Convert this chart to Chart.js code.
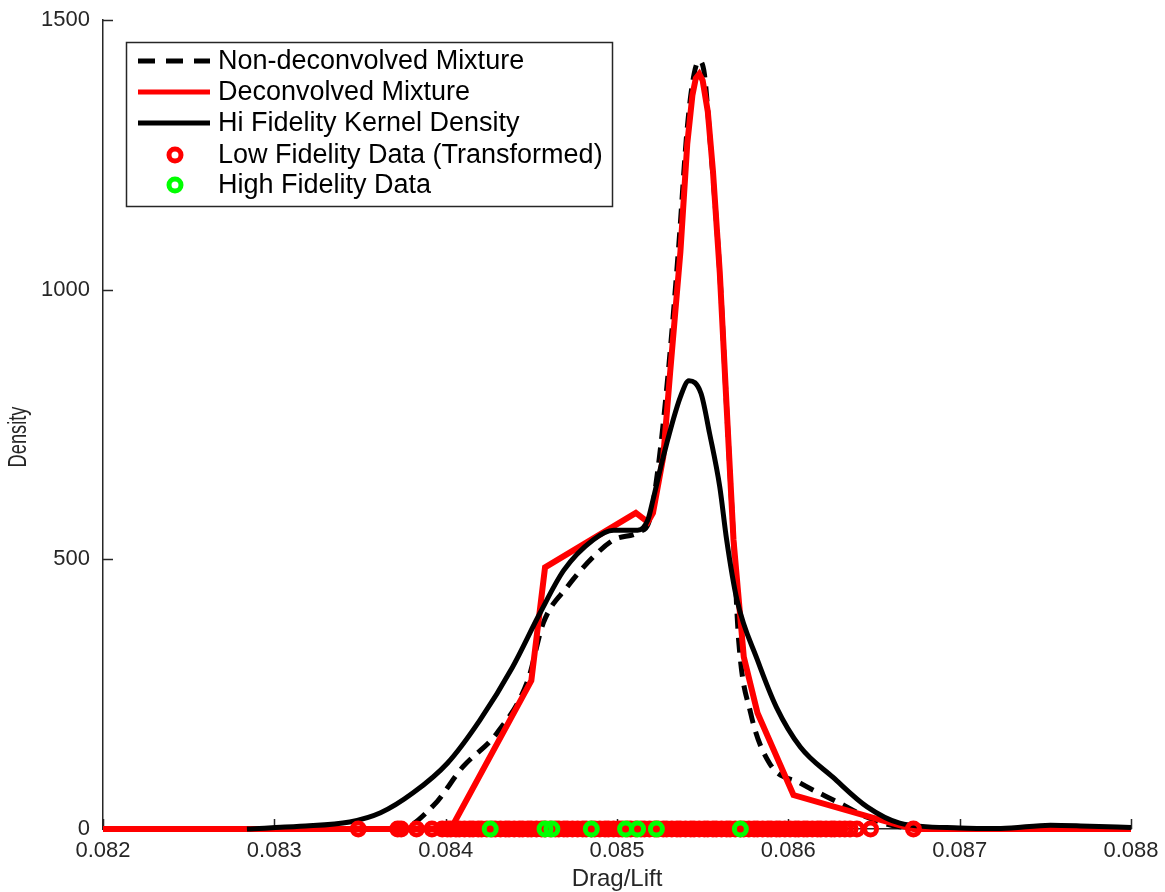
<!DOCTYPE html>
<html>
<head>
<meta charset="utf-8">
<title>Drag/Lift density</title>
<script src="https://cdn.jsdelivr.net/npm/chart.js@4.4.0/dist/chart.umd.min.js"></script>
<style>
  html, body { margin: 0; padding: 0; background: #fff; }
  #wrap { width: 1165px; height: 892px; }
</style>
</head>
<body>
<div id="wrap"><canvas id="chart" width="1165" height="892"></canvas></div>
<script>
// axis ticks
const xTickVals = [0.082, 0.083, 0.084, 0.085, 0.086, 0.087, 0.088];
const yTickVals = [0, 500, 1000, 1500];

// mixture fitted to the raw low fidelity data
const nonDeconvX = [0.0820, 0.08373, 0.08393, 0.08410, 0.08430, 0.08448, 0.08457, 0.08471, 0.08486, 0.08498,
  0.08513, 0.08519, 0.08524, 0.08530, 0.08536, 0.08541, 0.08545, 0.08548, 0.08551, 0.08554,
  0.08560, 0.08564, 0.08568, 0.08571, 0.08578, 0.08589, 0.08607, 0.08630, 0.08646, 0.08665,
  0.0870, 0.0880];
const nonDeconvY = [0, 0, 44, 115, 178, 276, 382, 449, 504, 536,
  551, 573, 670, 850, 1080, 1300, 1400, 1424, 1400, 1290,
  1030, 780, 536, 350, 215, 122, 85, 48, 22, 4,
  0, 0];

// deconvolved mixture
const deconvX = [0.0820, 0.08403, 0.08450, 0.08458, 0.08511, 0.08518, 0.08521, 0.08527, 0.08531, 0.08537,
  0.08541, 0.08544, 0.08546, 0.08548, 0.08550, 0.08553, 0.08556, 0.08560, 0.08564, 0.08568,
  0.08574, 0.08582, 0.08603, 0.08648, 0.08673, 0.0880];
const deconvY = [0, 0, 275, 485, 586, 569, 586, 690, 846, 1070,
  1270, 1360, 1392, 1400, 1388, 1330, 1220, 1031, 782, 536,
  319, 215, 63, 22, 0, 0];

// kernel density of the high fidelity runs
const kdeX = [0.08284, 0.08315, 0.08344, 0.08362, 0.08381, 0.08401, 0.08420, 0.08439, 0.08455, 0.08469,
  0.08486, 0.08498, 0.08512, 0.08518, 0.08521, 0.08527, 0.08537, 0.08542, 0.08549, 0.08554,
  0.08560, 0.08564, 0.08570, 0.08582, 0.08593, 0.08607, 0.08626, 0.08646, 0.08665, 0.08700,
  0.08724, 0.08753, 0.08776, 0.0880];
const kdeY = [0, 5, 13, 30, 67, 122, 202, 300, 400, 480,
  536, 554, 554, 573, 610, 690, 801, 831, 808, 734,
  634, 536, 425, 313, 226, 152, 96, 41, 11, 2,
  1, 7, 5, 3];

// samples, plotted along zero
const lowFiX = [0.08349, 0.08372, 0.08374, 0.08383, 0.08392, 0.08398,
  0.08401, 0.08403, 0.08406, 0.08408, 0.08411, 0.08414, 0.08416, 0.08419, 0.08421, 0.08424,
  0.08427, 0.08429, 0.08432, 0.08435, 0.08437, 0.08440, 0.08443, 0.08445, 0.08448, 0.08450,
  0.08453, 0.08456, 0.08458, 0.08461, 0.08464, 0.08466, 0.08469, 0.08471, 0.08474, 0.08477,
  0.08480, 0.08482, 0.08485, 0.08487, 0.08490, 0.08493, 0.08495, 0.08498, 0.08501, 0.08503,
  0.08506, 0.08508, 0.08511, 0.08514, 0.08516, 0.08519, 0.08522, 0.08524, 0.08527, 0.08529,
  0.08532, 0.08535, 0.08537, 0.08540, 0.08543, 0.08545, 0.08548, 0.08551, 0.08553, 0.08556,
  0.08558, 0.08561, 0.08564, 0.08566, 0.08569, 0.08572, 0.08574, 0.08577, 0.08580, 0.08582,
  0.08585, 0.08588, 0.08590, 0.08593, 0.08595, 0.08598, 0.08601, 0.08604, 0.08606, 0.08609,
  0.08611, 0.08614, 0.08617, 0.08619, 0.08622, 0.08625, 0.08627, 0.08630, 0.08633, 0.08636,
  0.08640, 0.08648, 0.08673];
const highFiX = [0.08426, 0.08458, 0.08462, 0.08485, 0.08505, 0.08512, 0.08523, 0.08572];

const axisColor = '#262626';
const fontFamily = '"Liberation Sans", Arial, sans-serif';
const pts = (xs, ys) => xs.map((x, i) => ({ x, y: ys[i] }));

// ticks point into the plot area
const inwardTicks = {
  id: 'inwardTicks',
  beforeDatasetsDraw(chart) {
    const { ctx, chartArea, scales: { x, y } } = chart;
    ctx.save();
    ctx.strokeStyle = axisColor;
    ctx.lineWidth = 1.5;
    ctx.beginPath();
    xTickVals.forEach(v => {
      const px = Math.round(x.getPixelForValue(v)) + 0.5;
      ctx.moveTo(px, chartArea.bottom);
      ctx.lineTo(px, chartArea.bottom - 10);
    });
    yTickVals.forEach(v => {
      const py = Math.round(y.getPixelForValue(v)) + 0.5;
      ctx.moveTo(chartArea.left, py);
      ctx.lineTo(chartArea.left + 10, py);
    });
    ctx.stroke();
    ctx.restore();
  }
};

// axis titles; the y title is drawn narrow
const axisTitles = {
  id: 'axisTitles',
  afterDraw(chart) {
    const { ctx, chartArea } = chart;
    ctx.save();
    ctx.fillStyle = axisColor;
    ctx.textAlign = 'center';
    ctx.textBaseline = 'middle';
    ctx.font = '24px ' + fontFamily;
    ctx.fillText('Drag/Lift', (chartArea.left + chartArea.right) / 2, chartArea.bottom + 50);
    ctx.font = '25px ' + fontFamily;
    ctx.translate(19, 437);
    ctx.rotate(-Math.PI / 2);
    ctx.scale(0.73, 1);
    ctx.fillText('Density', 0, 0);
    ctx.restore();
  }
};

// boxed legend in the upper left corner
const legendBox = {
  id: 'legendBox',
  afterDraw(chart) {
    const { ctx, chartArea } = chart;
    const left = chartArea.left + 23, top = chartArea.top + 22;
    const w = 486, h = 164;
    const rows = [19, 50, 81, 113, 143];
    ctx.save();
    ctx.fillStyle = '#fff';
    ctx.fillRect(left, top, w, h);
    ctx.strokeStyle = axisColor;
    ctx.lineWidth = 1.5;
    ctx.strokeRect(left + 0.5, top + 0.5, w, h);
    ctx.font = '27px ' + fontFamily;
    ctx.textBaseline = 'middle';
    chart.data.datasets.forEach((ds, k) => {
      const cy = top + rows[k];
      if (ds.showLine) {
        ctx.beginPath();
        ctx.strokeStyle = ds.borderColor;
        ctx.lineWidth = 5;
        ctx.setLineDash(ds.borderDash ? [17, 11] : []);
        ctx.moveTo(left + 12, cy);
        ctx.lineTo(left + 84, cy);
        ctx.stroke();
        ctx.setLineDash([]);
      } else {
        ctx.beginPath();
        ctx.strokeStyle = ds.pointBorderColor;
        ctx.lineWidth = 5;
        ctx.arc(left + 49, cy, 6, 0, Math.PI * 2);
        ctx.stroke();
      }
      ctx.fillStyle = '#000';
      ctx.fillText(ds.label, left + 92, cy + 1);
    });
    ctx.restore();
  }
};

const tickFont = { family: fontFamily, size: 22 };

new Chart(document.getElementById('chart'), {
  type: 'scatter',
  data: {
    datasets: [
      {
        label: 'Non-deconvolved Mixture',
        data: pts(nonDeconvX, nonDeconvY),
        showLine: true, borderColor: '#000', borderWidth: 5, borderDash: [15, 9],
        cubicInterpolationMode: 'monotone',
        pointRadius: 0, order: 4, clip: false
      },
      {
        label: 'Deconvolved Mixture',
        data: pts(deconvX, deconvY),
        showLine: true, borderColor: '#ff0000', borderWidth: 6,
        pointRadius: 0, tension: 0, order: 3, clip: false
      },
      {
        label: 'Hi Fidelity Kernel Density',
        data: pts(kdeX, kdeY),
        showLine: true, borderColor: '#000', borderWidth: 5,
        cubicInterpolationMode: 'monotone',
        pointRadius: 0, order: 2, clip: false
      },
      {
        label: 'Low Fidelity Data (Transformed)',
        data: lowFiX.map(x => ({ x, y: 0 })),
        showLine: false, pointRadius: 6, pointBorderWidth: 5,
        pointBorderColor: '#ff0000', pointBackgroundColor: 'rgba(0,0,0,0)', order: 1, clip: false
      },
      {
        label: 'High Fidelity Data',
        data: highFiX.map(x => ({ x, y: 0 })),
        showLine: false, pointRadius: 6, pointBorderWidth: 5,
        pointBorderColor: '#00ff00', pointBackgroundColor: 'rgba(0,0,0,0)', order: 0, clip: false
      }
    ]
  },
  options: {
    responsive: false,
    animation: false,
    devicePixelRatio: 1,
    layout: { padding: { top: 20, right: 34, left: 0, bottom: 0 } },
    plugins: { legend: { display: false }, tooltip: { enabled: false } },
    scales: {
      x: {
        type: 'linear', min: 0.082, max: 0.088,
        afterBuildTicks: s => { s.ticks = xTickVals.map(v => ({ value: v })); },
        afterFit: s => { s.height = 63; s.paddingLeft = 0; s.paddingRight = 0; },
        grid: { display: false, drawTicks: false },
        border: { display: true, color: axisColor, width: 1.5 },
        ticks: { font: tickFont, color: axisColor, padding: 9, maxRotation: 0,
          callback: v => v.toFixed(3) }
      },
      y: {
        type: 'linear', min: 0, max: 1500,
        afterBuildTicks: s => { s.ticks = yTickVals.map(v => ({ value: v })); },
        afterFit: s => { s.width = 103; s.paddingTop = 0; s.paddingBottom = 0; },
        grid: { display: false, drawTicks: false },
        border: { display: true, color: axisColor, width: 1.5 },
        ticks: { font: tickFont, color: axisColor, padding: 13, callback: v => String(v) }
      }
    }
  },
  plugins: [inwardTicks, legendBox, axisTitles]
});
</script>
</body>
</html>
